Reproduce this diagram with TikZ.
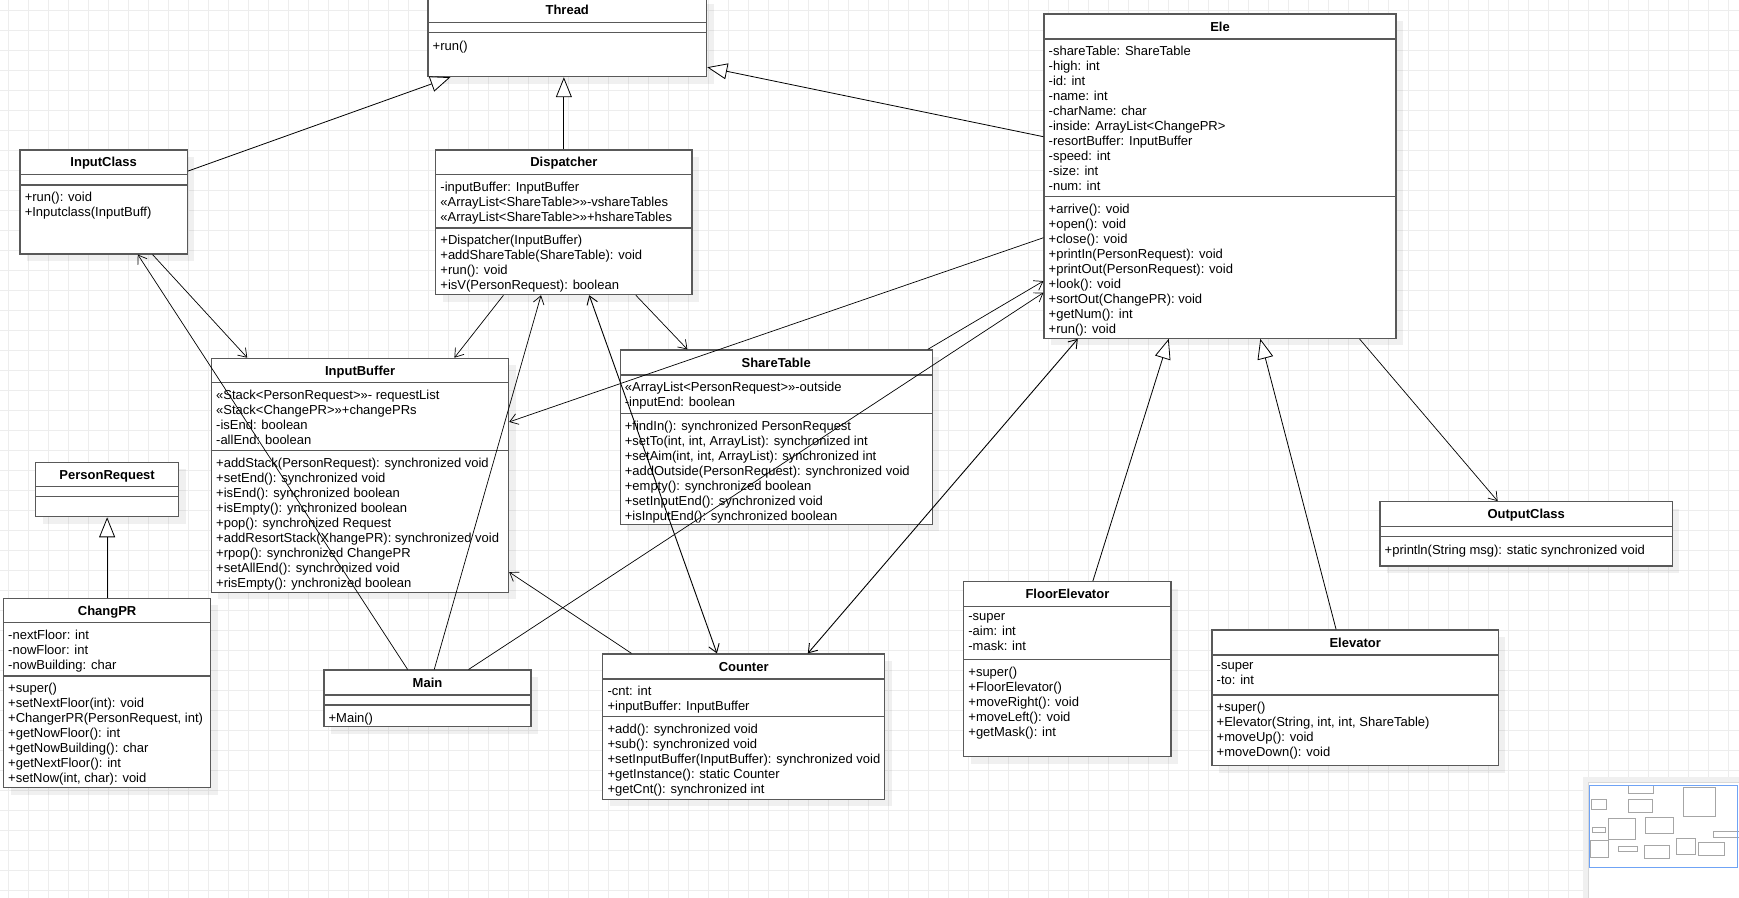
\documentclass[tikz,border=0pt]{standalone}
\usepackage{fontspec}
\setmainfont{Liberation Sans}
\usetikzlibrary{arrows.meta}
\usetikzlibrary{calc}
\usetikzlibrary{fit}
\usetikzlibrary{shadows}

\definecolor{viewblue}{HTML}{6FA3F5}
\newcommand{\memberfont}{\fontsize{13}{15}\selectfont}
\newcommand{\titlefont}{\fontsize{13}{15}\selectfont\bfseries}

\tikzset{
  gridline/.style={black!7, line width=0.8pt},
  classbox/.style={draw=black!65, line width=1.2pt, fill=white, inner sep=0pt,
    drop shadow={shadow xshift=7pt, shadow yshift=-7pt, fill=black, opacity=0.06}},
  classline/.style={black!65, line width=1.2pt},
  classtitle/.style={font=\titlefont, anchor=base, yshift=-4.65pt, inner sep=0pt},
  members/.style={font=\memberfont, align=left, anchor=north west, inner xsep=4.5pt,
    inner ysep=0pt, yshift=-2.6pt, execute at begin node=\strut},
  assoc/.style={black, line width=0.7pt, -{Straight Barb[length=8pt, width=11pt]}},
  assocboth/.style={black, line width=0.9pt,
    {Straight Barb[length=8pt, width=11pt]}-{Straight Barb[length=8pt, width=11pt]}},
  inherit/.style={black, line width=0.8pt, -{Triangle[open, length=20pt, width=16pt, fill=white]}},
  thumbbox/.style={black!35, line width=0.4pt, fill=white},
}

\begin{document}
\begin{tikzpicture}[x=1.109pt,y=-1.109pt]
\useasboundingbox (0,0) rectangle (1568.1,809.7);
% the grid, in pixels
\begin{scope}[x=1pt,y=-1pt]
\foreach \k in {0,...,86} \draw[gridline] (8.3+20*\k,0) -- (8.3+20*\k,898);
\foreach \k in {0,...,44} \draw[gridline] (0,10.3+20*\k) -- (1739,10.3+20*\k);
\end{scope}
% The classes
%     Thread
\node[classbox, fit={(385.9,-3) (637.2,69.1)}] (thread) {};
\node[classtitle] (threadtitle) at (511.5,9.2) {Thread};
\draw[classline] (385.9,20.4) -- (637.2,20.4);
\draw[classline] (385.9,29.5) -- (637.2,29.5);
\node[members] (threadops) at (385.9,33.6) {+run()};
%     InputClass
\node[classbox, fit={(18.1,135.3) (169,229)}] (inputclass) {};
\node[classtitle] (inputclasstitle) at (93.5,146.3) {InputClass};
\draw[classline] (18.1,157.2) -- (169,157.2);
\draw[classline] (18.1,166.8) -- (169,166.8);
\node[members] (inputclassops) at (18.1,170.9) {+run(): void\\+Inputclass(InputBuff)};
%     Dispatcher
\node[classbox, fit={(392.9,135.3) (624,265.7)}] (dispatcher) {};
\node[classtitle] (dispatchertitle) at (508.5,146.3) {Dispatcher};
\draw[classline] (392.9,157.2) -- (624,157.2);
\node[members] (dispatcherattr) at (392.9,161.3) {-inputBuffer: InputBuffer\\«ArrayList<ShareTable>»-vshareTables\\«ArrayList<ShareTable>»+hshareTables};
\draw[classline] (392.9,205.6) -- (624,205.6);
\node[members] (dispatcherops) at (392.9,209.7) {+Dispatcher(InputBuffer)\\+addShareTable(ShareTable): void\\+run(): void\\+isV(PersonRequest): boolean};
%     Ele
\node[classbox, fit={(941.4,12.6) (1258.8,305)}] (ele) {};
\node[classtitle] (eletitle) at (1100.1,23.9) {Ele};
\draw[classline] (941.4,35.2) -- (1258.8,35.2);
\node[members] (eleattr) at (941.4,39.3) {-shareTable: ShareTable\\-high: int\\-id: int\\-name: int\\-charName: char\\-inside: ArrayList<ChangePR>\\-resortBuffer: InputBuffer\\-speed: int\\-size: int\\-num: int};
\draw[classline] (941.4,177.3) -- (1258.8,177.3);
\node[members] (eleops) at (941.4,181.4) {+arrive(): void\\+open(): void\\+close(): void\\+printIn(PersonRequest): void\\+printOut(PersonRequest): void\\+look(): void\\+sortOut(ChangePR): void\\+getNum(): int\\+run(): void};
%     InputBuffer
\node[classbox, fit={(190.7,323.1) (458.6,534.1)}] (inputbuffer) {};
\node[classtitle] (inputbuffertitle) at (324.7,334.1) {InputBuffer};
\draw[classline] (190.7,345) -- (458.6,345);
\node[members] (inputbufferattr) at (190.7,349.1) {«Stack<PersonRequest>»- requestList\\«Stack<ChangePR>»+changePRs\\-isEnd: boolean\\-allEnd: boolean};
\draw[classline] (190.7,406.4) -- (458.6,406.4);
\node[members] (inputbufferops) at (190.7,410.5) {+addStack(PersonRequest): synchronized void\\+setEnd(): synchronized void\\+isEnd(): synchronized boolean\\+isEmpty(): ynchronized boolean\\+pop(): synchronized Request\\+addResortStack(XhangePR): synchronized void\\+rpop(): synchronized ChangePR\\+setAllEnd(): synchronized void\\+risEmpty(): ynchronized boolean};
%     ShareTable
\node[classbox, fit={(559.2,315.6) (840.6,472.8)}] (sharetable) {};
\node[classtitle] (sharetabletitle) at (699.9,326.9) {ShareTable};
\draw[classline] (559.2,338.1) -- (840.6,338.1);
\node[members] (sharetableattr) at (559.2,342.2) {«ArrayList<PersonRequest>»-outside\\-inputEnd: boolean};
\draw[classline] (559.2,372.7) -- (840.6,372.7);
\node[members] (sharetableops) at (559.2,376.8) {+findIn(): synchronized PersonRequest\\+setTo(int, int, ArrayList): synchronized int\\+setAim(int, int, ArrayList): synchronized int\\+addOutside(PersonRequest): synchronized void\\+empty(): synchronized boolean\\+setInputEnd(): synchronized void\\+isInputEnd(): synchronized boolean};
%     PersonRequest
\node[classbox, fit={(32.2,416.9) (161,465.9)}] (personrequest) {};
\node[classtitle] (personrequesttitle) at (96.6,427.9) {PersonRequest};
\draw[classline] (32.2,438.8) -- (161,438.8);
\draw[classline] (32.2,447.8) -- (161,447.8);
%     ChangPR
\node[classbox, fit={(3.2,539.5) (190,710.2)}] (changpr) {};
\node[classtitle] (changprtitle) at (96.6,550.5) {ChangPR};
\draw[classline] (3.2,561.5) -- (190,561.5);
\node[members] (changprattr) at (3.2,565.6) {-nextFloor: int\\-nowFloor: int\\-nowBuilding: char};
\draw[classline] (3.2,609.6) -- (190,609.6);
\node[members] (changprops) at (3.2,613.7) {+super()\\+setNextFloor(int): void\\+ChangerPR(PersonRequest, int)\\+getNowFloor(): int\\+getNowBuilding(): char\\+getNextFloor(): int\\+setNow(int, char): void};
%     Main
\node[classbox, fit={(292.1,604.2) (478.8,655.2)}] (main) {};
\node[classtitle] (maintitle) at (385.5,615.5) {Main};
\draw[classline] (292.1,626.7) -- (478.8,626.7);
\draw[classline] (292.1,635.7) -- (478.8,635.7);
\node[members] (mainops) at (292.1,639.8) {+Main()};
%     Counter
\node[classbox, fit={(543.6,589.7) (797.6,720.8)}] (counter) {};
\node[classtitle] (countertitle) at (670.6,601) {Counter};
\draw[classline] (543.6,612.3) -- (797.6,612.3);
\node[members] (counterattr) at (543.6,616.4) {-cnt: int\\+inputBuffer: InputBuffer};
\draw[classline] (543.6,646.2) -- (797.6,646.2);
\node[members] (counterops) at (543.6,650.3) {+add(): synchronized void\\+sub(): synchronized void\\+setInputBuffer(InputBuffer): synchronized void\\+getInstance(): static Counter\\+getCnt(): synchronized int};
%     FloorElevator
\node[classbox, fit={(869,524.5) (1055.9,682.3)}] (floorelevator) {};
\node[classtitle] (floorelevatortitle) at (962.5,535.8) {FloorElevator};
\draw[classline] (869,547) -- (1055.9,547);
\node[members] (floorelevatorattr) at (869,551.1) {-super\\-aim: int\\-mask: int};
\draw[classline] (869,594.5) -- (1055.9,594.5);
\node[members] (floorelevatorops) at (869,598.6) {+super()\\+FloorElevator()\\+moveRight(): void\\+moveLeft(): void\\+getMask(): int};
%     Elevator
\node[classbox, fit={(1092.9,568) (1351,690.4)}] (elevator) {};
\node[classtitle] (elevatortitle) at (1222,579.3) {Elevator};
\draw[classline] (1092.9,590.6) -- (1351,590.6);
\node[members] (elevatorattr) at (1092.9,594.7) {-super\\-to: int};
\draw[classline] (1092.9,626.7) -- (1351,626.7);
\node[members] (elevatorops) at (1092.9,630.8) {+super()\\+Elevator(String, int, int, ShareTable)\\+moveUp(): void\\+moveDown(): void};
%     OutputClass
\node[classbox, fit={(1244.4,452.4) (1508,510.4)}] (outputclass) {};
\node[classtitle] (outputclasstitle) at (1376.2,463.7) {OutputClass};
\draw[classline] (1244.4,474.9) -- (1508,474.9);
\draw[classline] (1244.4,483.9) -- (1508,483.9);
\node[members] (outputclassops) at (1244.4,488) {+println(String msg): static synchronized void};
% generalizations
\draw[inherit] ([shift={(0,19.5)}]inputclass.north east) -- ([shift={(20.7,0)}]thread.south west);
\draw[inherit] (dispatcher.north) -- (dispatcher.north |- thread.south);
\draw[inherit] ([shift={(0,111.2)}]ele.north west) -- ([shift={(0,-9)}]thread.south east);
\draw[inherit] ([shift={(117,0)}]floorelevator.north west) -- ([shift={(113,0)}]ele.south west);
\draw[inherit] ([shift={(112.4,0)}]elevator.north west) -- ([shift={(195.6,0)}]ele.south west);
\draw[inherit] (changpr.north) -- (personrequest.south);
% associations
\draw[assoc] ([shift={(120,0)}]inputclass.south west) -- ([shift={(32.8,0)}]inputbuffer.north west);
\draw[assoc] ([shift={(76,0)}]main.north west) -- ([shift={(106.7,0)}]inputclass.south west);
\draw[assoc] ([shift={(61.6,0)}]dispatcher.south west) -- ([shift={(219.6,0)}]inputbuffer.north west);
\draw[assoc] ([shift={(100,0)}]main.north west) -- ([shift={(95.5,0)}]dispatcher.south west);
\draw[assocboth] ([shift={(139,0)}]dispatcher.south west) -- ([shift={(103.4,0)}]counter.north west);
\draw[assoc] ([shift={(181,0)}]dispatcher.south west) -- ([shift={(61.2,0)}]sharetable.north west);
\draw[assoc] ([shift={(0,202.3)}]ele.north west) -- ([shift={(0,57.9)}]inputbuffer.north east);
\draw[assoc] ([shift={(-4.6,0)}]sharetable.north east) -- ([shift={(0,241.4)}]ele.north west);
\draw[assoc] ([shift={(131,0)}]main.north west) -- ([shift={(0,251.9)}]ele.north west);
\draw[assocboth] ([shift={(185.4,0)}]counter.north west) -- ([shift={(31,0)}]ele.south west);
\draw[assoc] ([shift={(26.4,0)}]counter.north west) -- ([shift={(0,193.3)}]inputbuffer.north east);
\draw[assoc] ([shift={(285,0)}]ele.south west) -- ([shift={(106.6,0)}]outputclass.north west);
% the outline panel, in pixels
\begin{scope}[x=1pt,y=-1pt]
\fill[black!6] (1583,777) rectangle (1739,898);
\draw[black!15, fill=white] (1588,782) rectangle (1745,905);
\end{scope}
\foreach \c in {thread,ele,inputclass,dispatcher,inputbuffer,sharetable,personrequest,changpr,main,counter,floorelevator,elevator,outputclass}
  \draw[thumbbox] ($(1433.3,708.7)+0.09*(\c.north west)$) rectangle ($(1433.3,708.7)+0.09*(\c.south east)$);
\begin{scope}[x=1pt,y=-1pt]
\draw[viewblue, line width=1.5pt] (1589.5,785.5) rectangle (1737.5,867.5);
\end{scope}
\end{tikzpicture}
\end{document}
